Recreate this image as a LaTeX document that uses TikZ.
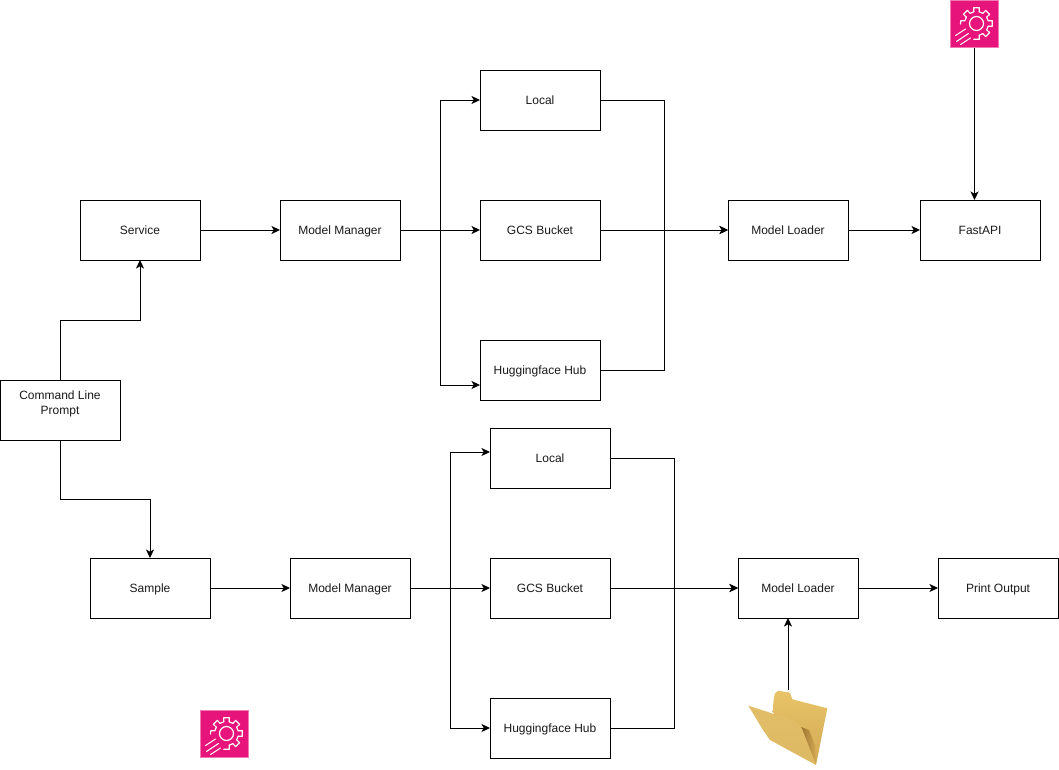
\documentclass[tikz,border=0pt]{standalone}
\usepackage{fontspec}
\setmainfont{Liberation Sans}
\usetikzlibrary{arrows.meta}
\definecolor{iconpink}{HTML}{E7157B}
\definecolor{iconedge}{HTML}{F27AB4}
\definecolor{txt}{HTML}{1A1A1A}
\definecolor{foldtop}{HTML}{E8C468}
\definecolor{foldbot}{HTML}{D2A853}
\definecolor{foldfrontA}{HTML}{E2BE68}
\definecolor{foldfrontB}{HTML}{DDB862}
\definecolor{folddark}{HTML}{9C7430}
\tikzset{
  box/.style={draw=black,line width=1pt,fill=white,minimum width=120pt,minimum height=60pt,inner sep=0pt,outer sep=0pt,align=center,font=\fontsize{12}{14.5}\selectfont,text=txt,text height=8.6pt,text depth=0pt},
  link/.style={draw=black,line width=1pt,-{Stealth[length=8.5pt,width=8pt,inset=2.2pt]}},
  branch/.style={draw=black,line width=1pt},
  iconbox/.style={draw=iconedge,line width=1pt,fill=iconpink,minimum width=47.5pt,minimum height=47.5pt,inner sep=0pt,outer sep=0pt},
  gearicon/.pic={
    \begin{scope}[draw=white,line width=1.2pt,line cap=round,line join=round]
      \draw (0,0) circle (7);
      \foreach \a in {-135,-90,-45,0,45}{
        \draw (\a-13:12) -- (\a-10:16) -- (\a+10:16) -- (\a+13:12);
        \draw (\a+13:12) arc[start angle=\a+13,end angle=\a+32,radius=12];
      }
      \draw (77:12) -- (80:16) -- (100:16);
      \draw (-148:12) -- (-167:12) -- (-170:16) -- (-182:16);
      \draw[line width=1pt] (-21,12) -- (-11,5.5);
      \draw[line width=1pt] (-20,18) -- (-8,10);
      \draw[line width=1pt] (-16,21) -- (-6,14.5);
    \end{scope}
  }
}
\begin{document}
\begin{tikzpicture}[x=1pt,y=-1pt]
\useasboundingbox (0,0) rectangle (1059,769);
% upper row nodes
\node[box] (service) at (140,230) {Service};
\node[box] (mma) at (340,230) {Model Manager};
\node[box] (locala) at (540,100) {Local};
\node[box] (gcsa) at (540,230) {GCS Bucket};
\node[box] (hfa) at (540,370) {Huggingface Hub};
\node[box] (mla) at (788,230) {Model Loader};
\node[box] (fastapi) at (980,230) {FastAPI};
\node[box] (cli) at (60,410) {Command Line\\Prompt};
% lower row nodes
\node[box] (sample) at (150,588) {Sample};
\node[box] (mmb) at (350,588) {Model Manager};
\node[box] (localb) at (550,458) {Local};
\node[box] (gcsb) at (550,588) {GCS Bucket};
\node[box] (hfb) at (550,728) {Huggingface Hub};
\node[box] (mlb) at (798,588) {Model Loader};
\node[box] (print) at (998,588) {Print Output};
% icons
\node[iconbox] (icona) at (974.5,24) {};
\pic at (976.5,23.5) {gearicon};
\node[iconbox] (iconb) at (224.5,734) {};
\pic at (226.5,733.5) {gearicon};
% folder
\path[top color=foldtop,bottom color=foldbot] (772.7,712) .. controls (773,703) and (774,697) .. (775,693.3) -- (778.3,690.7) -- (790,692.7) -- (792.3,699.3) -- (827.3,708.3) -- (816,765) -- cycle;
\path[left color=folddark,right color=foldbot] (801,727) -- (816,765) -- (815,745) -- (809,730) -- cycle;
\path[top color=foldfrontA,bottom color=foldfrontB] (748.3,705.7) -- (761.7,710) -- (795,720.7) .. controls (800,724) and (802,728) .. (804,734) -- (816,765) -- (770,740) -- (763,730) -- cycle;
\coordinate (folder) at (788,690);
% junctions
\coordinate (ja) at (440,230);
\coordinate (hfain) at (480,385);
\coordinate (ma) at (664,230);
\coordinate (jb) at (450,588);
\coordinate (lbin) at (490,452);
\coordinate (mb) at (674,588);
\coordinate (ctop) at (60,320);
\coordinate (cbot) at (60,499);
\coordinate (iconaout) at (974.5,48);
\coordinate (fastin) at (974.5,200);
\coordinate (mlbin) at (788,618);
% connectors
\draw[link] (cli.north) -- (ctop) -| (service.south);
\draw[link] (cli.south) -- (cbot) -| (sample.north);
\draw[link] (service.east) -- (mma.west);
\draw[link] (mma.east) -- (gcsa.west);
\draw[link] (ja) |- (locala.west);
\draw[link] (ja) |- (hfain);
\draw[link] (gcsa.east) -- (mla.west);
\draw[link] (locala.east) -| (ma) -- (mla.west);
\draw[branch] (hfa.east) -| (ma);
\draw[link] (mla.east) -- (fastapi.west);
\draw[link] (iconaout) -- (fastin);
\draw[link] (sample.east) -- (mmb.west);
\draw[link] (mmb.east) -- (gcsb.west);
\draw[link] (jb) |- (lbin);
\draw[link] (jb) |- (hfb.west);
\draw[link] (gcsb.east) -- (mlb.west);
\draw[link] (localb.east) -| (mb) -- (mlb.west);
\draw[branch] (hfb.east) -| (mb);
\draw[link] (mlb.east) -- (print.west);
\draw[link] (folder) -- (mlbin);
\end{tikzpicture}
\end{document}
